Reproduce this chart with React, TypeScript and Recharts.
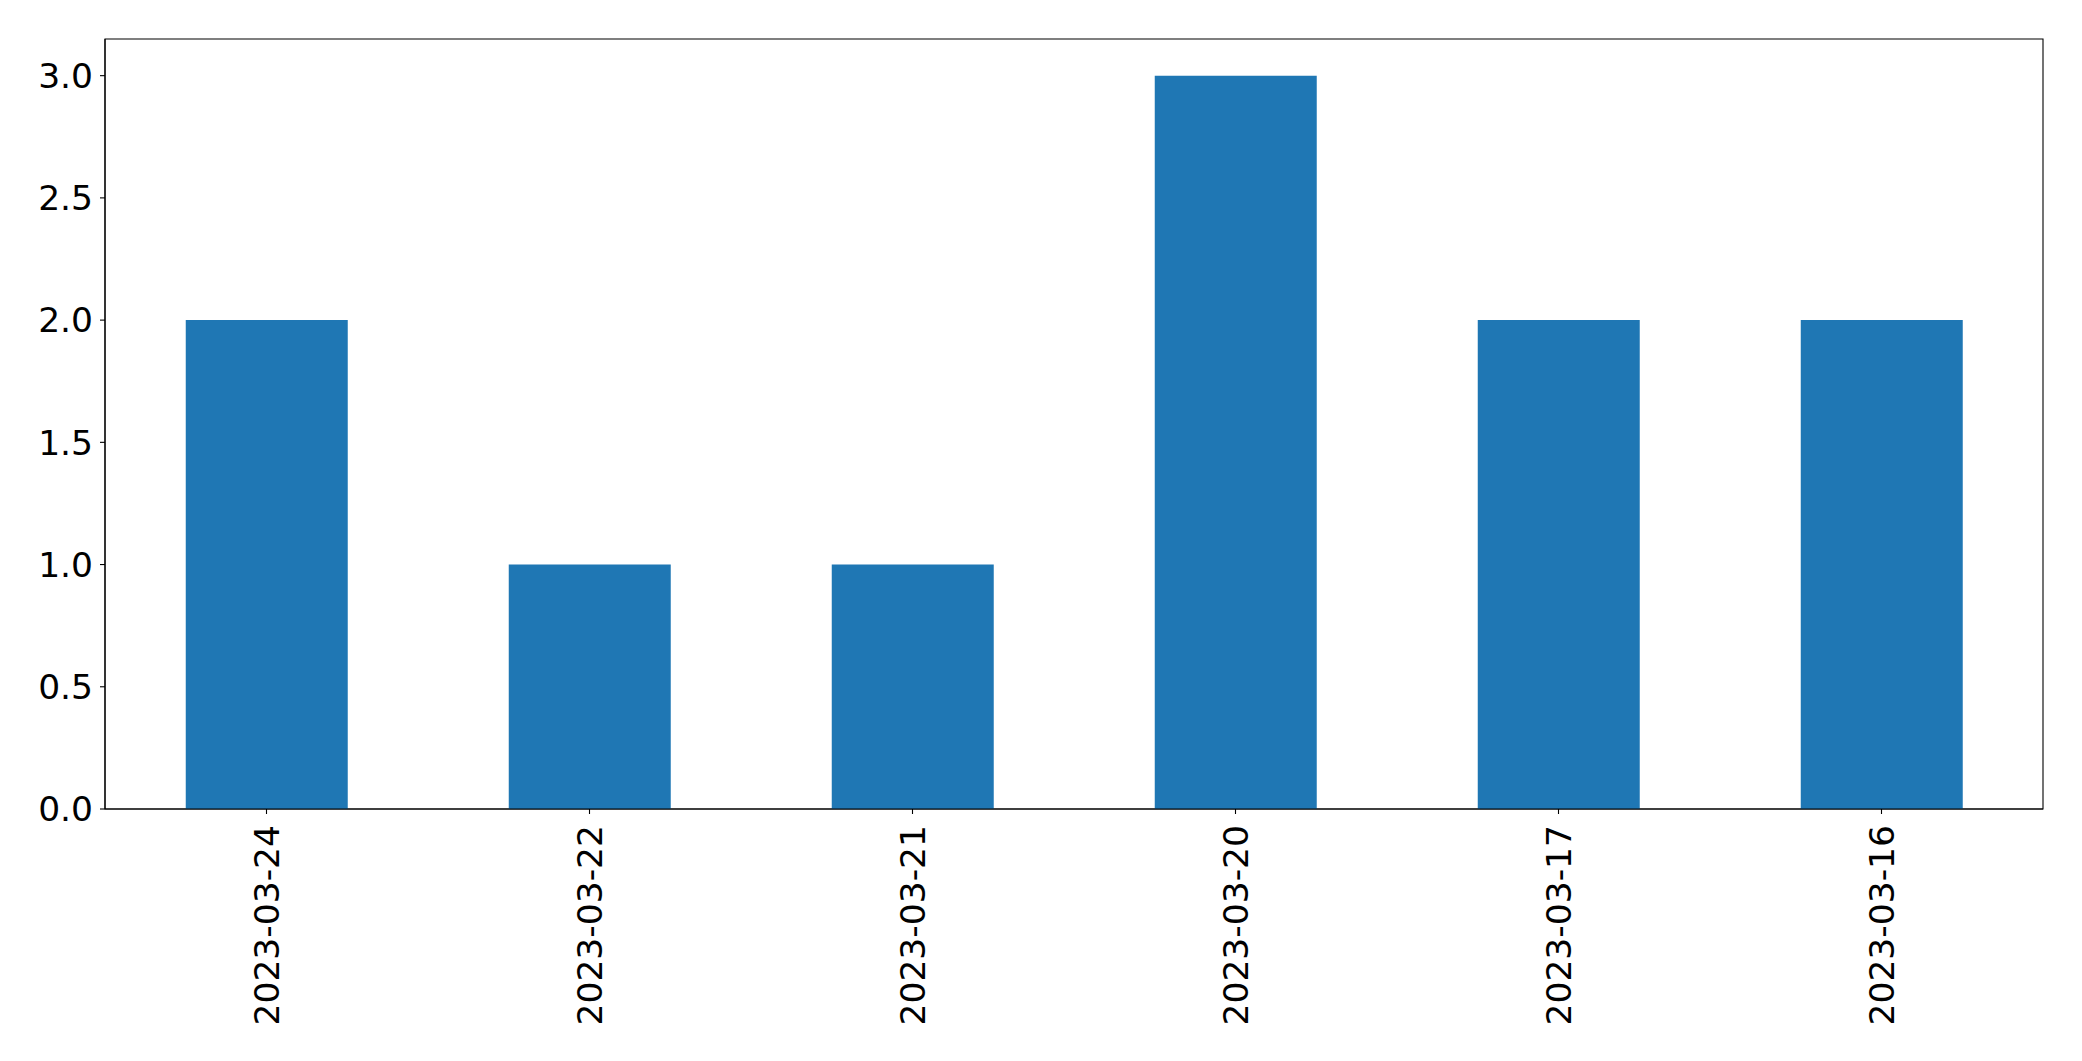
import { BarChart, Bar, XAxis, YAxis, ReferenceArea } from 'recharts';

const dates = ['2023-03-24', '2023-03-22', '2023-03-21', '2023-03-20', '2023-03-17', '2023-03-16'];
const counts = [2, 1, 1, 3, 2, 2];
const yTicks = [0, 0.5, 1, 1.5, 2, 2.5, 3];

const data = dates.map((d, i) => ({ date: d, count: counts[i] }));

const FONT = 'DejaVu Sans, sans-serif';
const FS = 34.5;
const axisLine = { stroke: '#000', strokeWidth: 1.1 };

// rotated date labels, read bottom-to-top like matplotlib's rotation=90
function DateTick({ x, y, payload }: any) {
  return (
    <g transform={`translate(${x},${y})`}>
      <text
        transform="rotate(-90)"
        x={-9}
        y={0}
        dy="0.36em"
        textAnchor="end"
        fontFamily={FONT}
        fontSize={FS}
        fill="#000"
      >
        {payload.value}
      </text>
    </g>
  );
}

export default function App() {
  return (
    <div style={{ position: 'absolute', left: 0, top: 0, background: '#fff' }}>
      <BarChart
        width={2082}
        height={1061}
        data={data}
        margin={{ top: 39, right: 39, left: 0, bottom: 0 }}
        barCategoryGap="25%"
      >
        <XAxis
          dataKey="date"
          height={252}
          interval={0}
          tick={<DateTick />}
          tickSize={5}
          tickLine={axisLine}
          axisLine={axisLine}
        />
        <YAxis
          domain={[0, 3.15]}
          ticks={yTicks}
          width={105}
          tickSize={5}
          tickMargin={7}
          tickLine={axisLine}
          axisLine={axisLine}
          tickFormatter={(v: number) => v.toFixed(1)}
          tick={{ fill: '#000', fontSize: FS, fontFamily: FONT }}
        />
        <Bar dataKey="count" fill="#1f77b4" isAnimationActive={false} />
        {/* frame around the plot area */}
        <ReferenceArea y1={0} y2={3.15} fill="none" fillOpacity={0} stroke="#000" strokeWidth={1.1} ifOverflow="visible" />
      </BarChart>
    </div>
  );
}
